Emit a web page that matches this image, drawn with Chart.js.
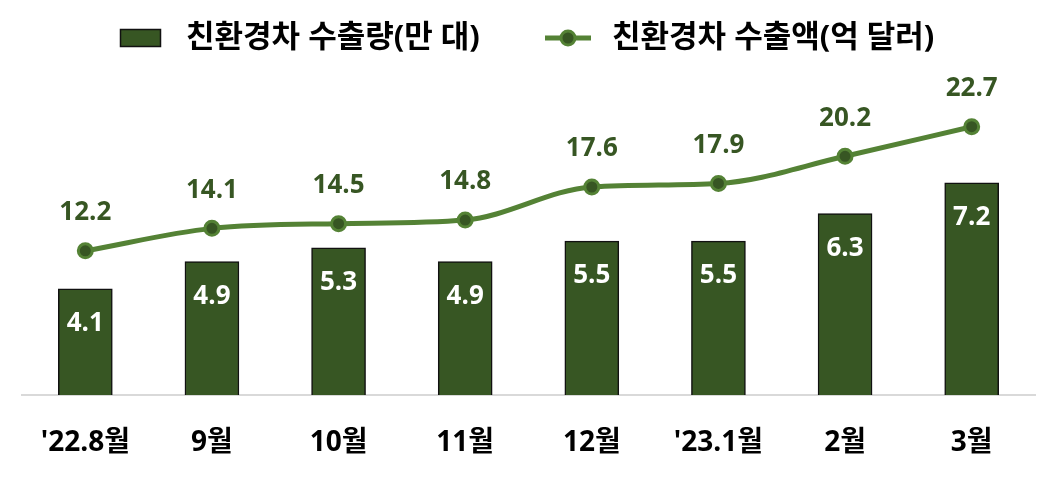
<!DOCTYPE html>
<html>
<head>
<meta charset="utf-8">
<script src="https://cdn.jsdelivr.net/npm/chart.js@4/dist/chart.umd.min.js"></script>
<style>
  html, body { margin: 0; padding: 0; background: #fff; }
  #wrap { width: 1057px; height: 480px; }
</style>
</head>
<body>
<div id="wrap"><canvas id="myChart"></canvas></div>
<script>
	// data
	var months = [ "'22.8월", '9월', '10월', '11월', '12월', "'23.1월", '2월', '3월' ];
	var volume = [ 4.1, 4.9, 5.3, 4.9, 5.5, 5.5, 6.3, 7.2 ];        // 만 대
	var amount = [ 12.2, 14.1, 14.5, 14.8, 17.6, 17.9, 20.2, 22.7 ]; // 억 달러

	var barColor = '#375623';
	var lineColor = '#548235';
	var fontFam = '"Open Sans", "Noto Sans CJK KR", sans-serif';

	// value labels above points / inside bars
	var valueLabels = {
		id : 'valueLabels',
		afterDatasetsDraw : function(chart) {
			var ctx = chart.ctx;
			ctx.save();
			ctx.textAlign = 'center';
			ctx.textBaseline = 'middle';
			ctx.font = 'bold 26px ' + fontFam;
			chart.data.datasets.forEach(function(ds, i) {
				var meta = chart.getDatasetMeta(i);
				meta.data.forEach(function(el, j) {
					var v = ds.data[j].toFixed(1);
					if (ds.type === 'bar') {
						ctx.fillStyle = '#ffffff';
						ctx.fillText(v, el.x, el.y + 35);
					} else {
						ctx.fillStyle = barColor;
						ctx.fillText(v, el.x, el.y - 38);
					}
				});
			});
			ctx.restore();
		}
	};

	// legend drawn by hand (bar swatch + line-with-dot swatch)
	var topLegend = {
		id : 'topLegend',
		afterDraw : function(chart) {
			var ctx = chart.ctx;
			var ds = chart.data.datasets;
			var y = 38;
			ctx.save();
			// bar swatch
			ctx.fillStyle = barColor;
			ctx.fillRect(120.5, 29.5, 40, 17);
			ctx.strokeStyle = '#111';
			ctx.lineWidth = 1.5;
			ctx.strokeRect(120.5, 29.5, 40, 17);
			// line swatch
			ctx.strokeStyle = lineColor;
			ctx.lineWidth = 5;
			ctx.beginPath(); ctx.moveTo(545, y); ctx.lineTo(591, y); ctx.stroke();
			ctx.beginPath(); ctx.arc(568, y, 7, 0, Math.PI * 2);
			ctx.fillStyle = barColor; ctx.fill();
			ctx.lineWidth = 3; ctx.stroke();
			// texts
			ctx.fillStyle = '#000';
			ctx.font = 'bold 31px ' + fontFam;
			ctx.textAlign = 'left';
			ctx.textBaseline = 'middle';
			ctx.fillText(ds[0].label, 186, y);
			ctx.fillText(ds[1].label, 612, y);
			ctx.restore();
		}
	};

	var ctx = document.getElementById('myChart');
	var myChart = new Chart(ctx, {
		type : 'bar',
		data : {
			labels : months,
			datasets : [ {
				type : 'bar',
				label : '친환경차 수출량(만 대)',
				data : volume,
				backgroundColor : barColor,
				borderColor : '#111',
				borderWidth : 1.5,
				barThickness : 54,
				yAxisID : 'y',
				order : 1
			}, {
				type : 'line',
				label : '친환경차 수출액(억 달러)',
				data : amount,
				borderColor : lineColor,
				borderWidth : 5,
				cubicInterpolationMode : 'monotone',
				pointRadius : 7,
				pointBorderWidth : 3,
				pointBackgroundColor : barColor,
				pointBorderColor : lineColor,
				yAxisID : 'y2',
				order : 0
			} ]
		},
		options : {
			responsive : true,
			maintainAspectRatio : false,
			animation : false,
			layout : { padding : { left : 22, right : 22, top : 70, bottom : 0 } },
			plugins : {
				tooltip : { enabled : false },
				legend : { display : false }
			},
			scales : {
				x : {
					grid : { display : false },
					border : { display : true, color : '#d9d9d9', width : 2 },
					ticks : {
						color : '#000',
						padding : 23,
						maxRotation : 0,
						font : { family : fontFam, size : 28, weight : 'bold' }
					},
					afterFit : function(scale) { scale.height = 85; }
				},
				y : {
					display : false,
					min : 1,
					max : 10.5
				},
				y2 : {
					display : false,
					min : 0,
					max : 27.5
				}
			}
		},
		plugins : [ valueLabels, topLegend ]
	});
</script>
</body>
</html>
